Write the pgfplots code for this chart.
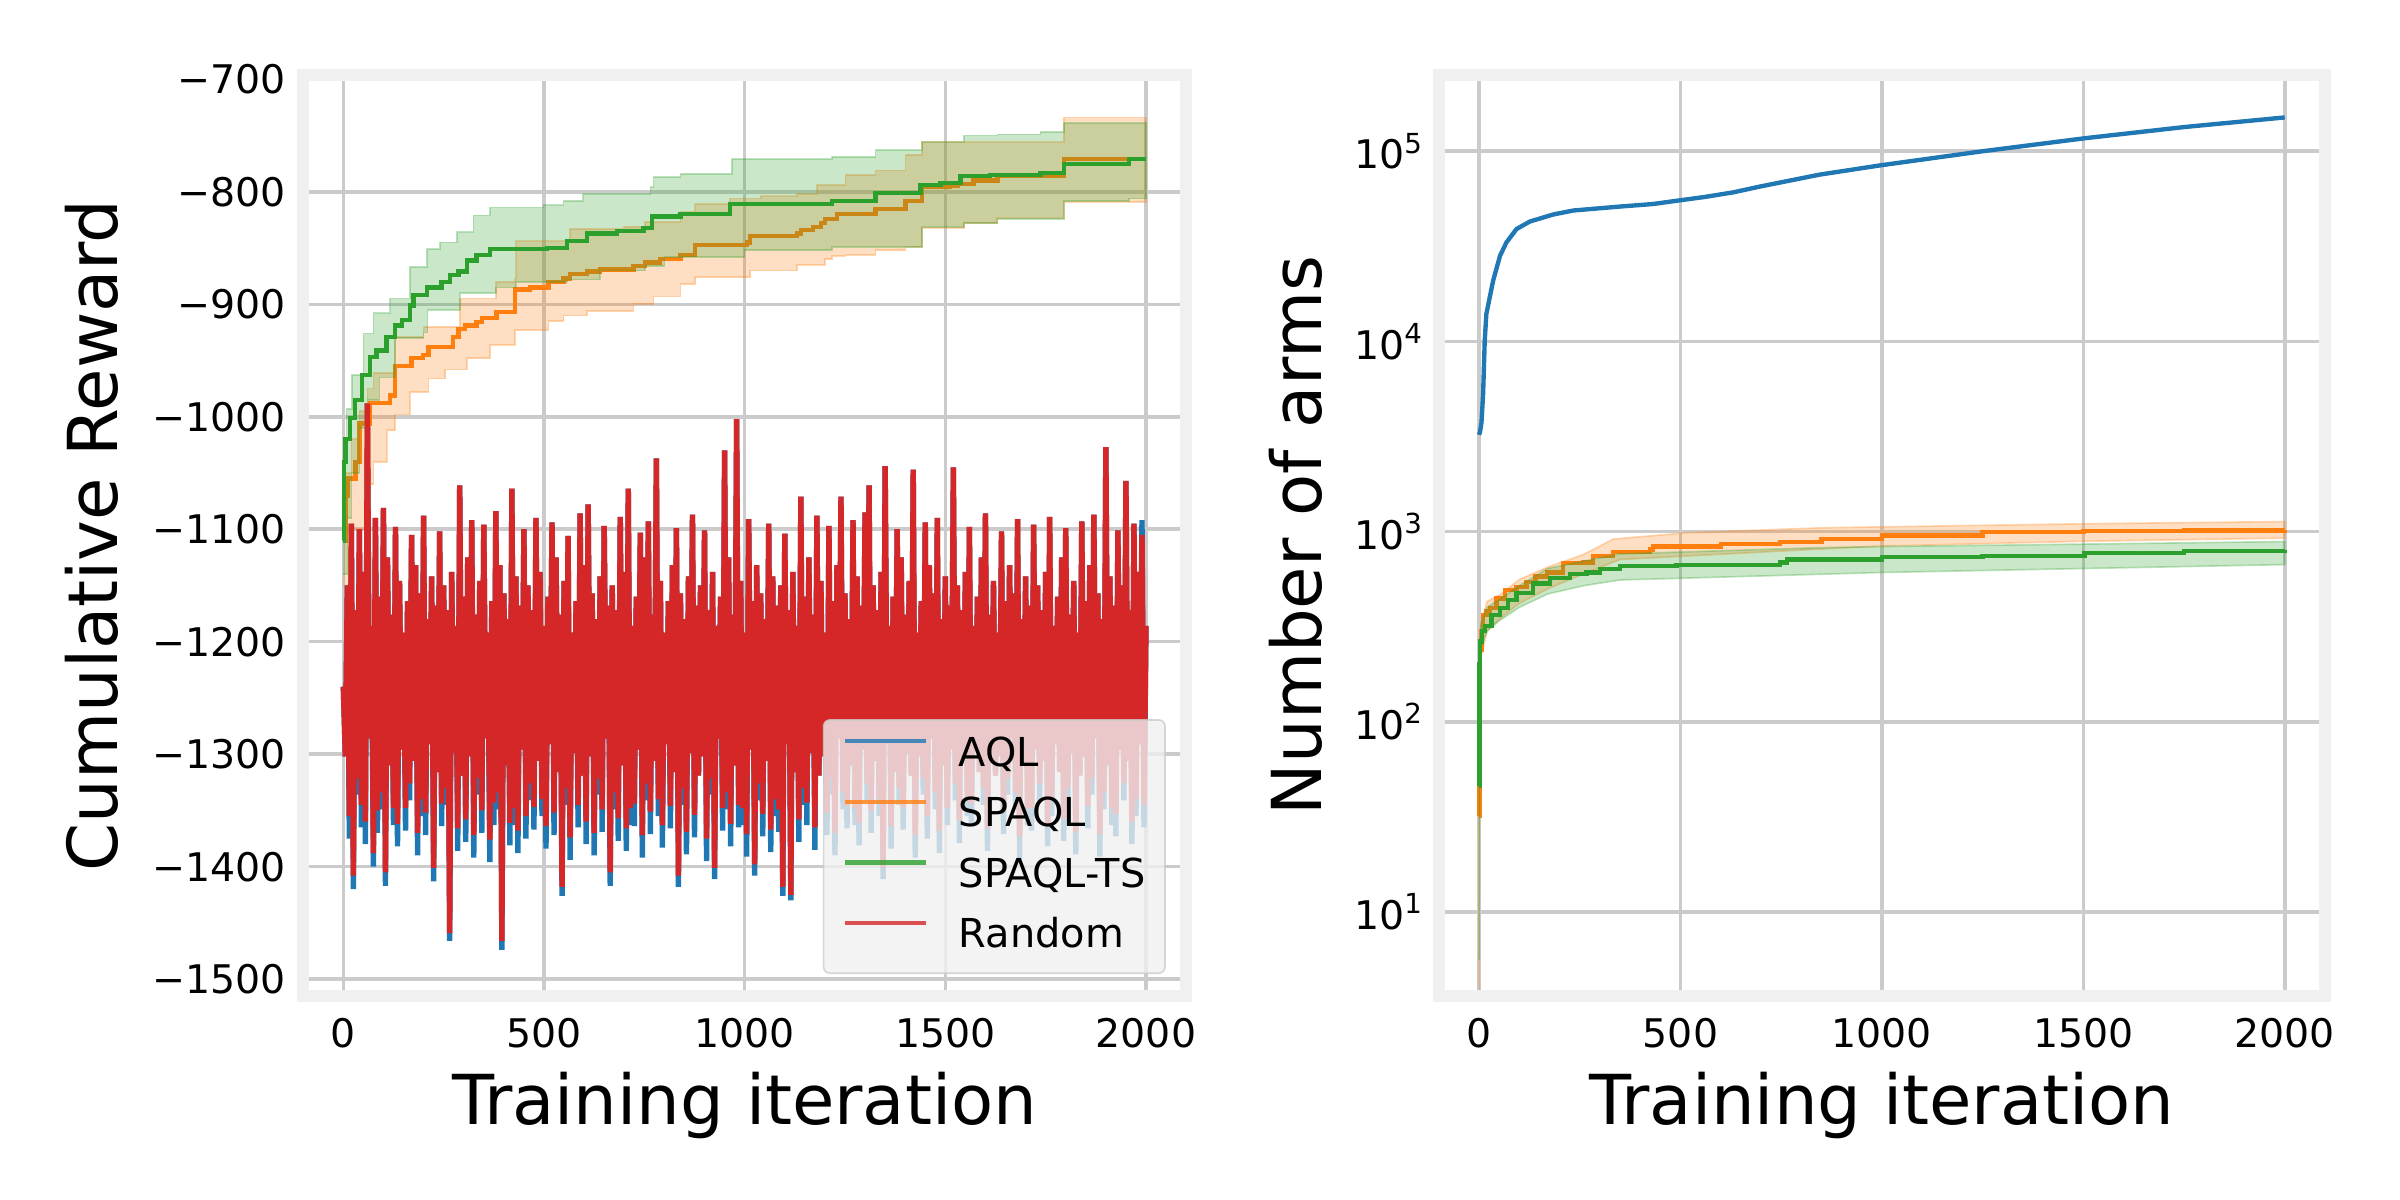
\documentclass[border=0pt]{standalone}
\usepackage{fontspec}
\setmainfont{DejaVu Sans}
\usepackage{pgfplots}
\usepackage{pgfplotstable}
\pgfplotsset{compat=1.18}

\definecolor{tblue}{HTML}{1F77B4}
\definecolor{torange}{HTML}{FF7F0E}
\definecolor{tgreen}{HTML}{2CA02C}
\definecolor{tred}{HTML}{D62728}
\definecolor{spinec}{HTML}{F0F0F0}
\definecolor{gridc}{HTML}{CBCBCB}
\definecolor{legbord}{HTML}{CCCCCC}

% ---------- left panel: noisy series (Random = r, AQL = a) ----------
\pgfplotstableread{
x r a
0 -1240 -1240
5 -1302 -1302
10 -1150 -1150
15 -1355 -1375
20 -1095 -1095
25 -1408 -1420
30 -1172 -1172
35 -1321 -1336
40 -1100 -1100
45 -1345 -1365
50 -1138 -1138
55 -1360 -1380
60 -988 -988
65 -1286 -1286
70 -1186 -1186
75 -1388 -1400
80 -1090 -1090
85 -1350 -1370
90 -1160 -1160
95 -1334 -1349
100 -1081 -1081
105 -1405 -1417
110 -1125 -1125
115 -1310 -1310
120 -1176 -1176
125 -1348 -1363
130 -1098 -1098
135 -1362 -1382
140 -1146 -1146
145 -1296 -1296
150 -1192 -1192
155 -1348 -1368
160 -1164 -1164
165 -1326 -1341
170 -1105 -1105
175 -1306 -1306
180 -1132 -1132
185 -1370 -1390
190 -1157 -1157
195 -1340 -1355
200 -1088 -1088
205 -1352 -1372
210 -1180 -1180
215 -1291 -1291
220 -1142 -1142
225 -1401 -1413
230 -1168 -1168
235 -1316 -1316
240 -1102 -1102
245 -1344 -1364
250 -1150 -1150
255 -1330 -1345
260 -1172 -1172
265 -1459 -1466
270 -1138 -1138
275 -1299 -1299
280 -1186 -1186
285 -1366 -1386
290 -1061 -1061
295 -1319 -1319
300 -1160 -1160
305 -1358 -1378
310 -1125 -1125
315 -1302 -1302
320 -1092 -1092
325 -1372 -1392
330 -1176 -1176
335 -1321 -1336
340 -1146 -1146
345 -1350 -1370
350 -1096 -1096
355 -1286 -1286
360 -1192 -1192
365 -1376 -1396
370 -1164 -1164
375 -1343 -1363
380 -1084 -1084
385 -1334 -1349
390 -1132 -1132
395 -1466 -1474
400 -1157 -1157
405 -1310 -1310
410 -1180 -1180
415 -1361 -1381
420 -1064 -1064
425 -1348 -1363
430 -1142 -1142
435 -1368 -1388
440 -1168 -1168
445 -1296 -1296
450 -1100 -1100
455 -1355 -1375
460 -1150 -1150
465 -1326 -1341
470 -1172 -1172
475 -1347 -1367
480 -1090 -1090
485 -1306 -1306
490 -1138 -1138
495 -1340 -1355
500 -1186 -1186
505 -1364 -1384
510 -1160 -1160
515 -1291 -1291
520 -1094 -1094
525 -1352 -1372
530 -1125 -1125
535 -1316 -1316
540 -1176 -1176
545 -1418 -1426
550 -1146 -1146
555 -1330 -1345
560 -1106 -1106
565 -1374 -1394
570 -1192 -1192
575 -1299 -1299
580 -1164 -1164
585 -1345 -1365
590 -1086 -1086
595 -1319 -1319
600 -1132 -1132
605 -1360 -1380
610 -1078 -1078
615 -1302 -1302
620 -1157 -1157
625 -1370 -1390
630 -1180 -1180
635 -1321 -1336
640 -1142 -1142
645 -1349 -1369
650 -1097 -1097
655 -1286 -1286
660 -1168 -1168
665 -1405 -1417
670 -1150 -1150
675 -1334 -1349
680 -1172 -1172
685 -1357 -1377
690 -1089 -1089
695 -1310 -1310
700 -1138 -1138
705 -1366 -1386
710 -1064 -1064
715 -1348 -1363
720 -1186 -1186
725 -1344 -1364
730 -1160 -1160
735 -1296 -1296
740 -1103 -1103
745 -1372 -1392
750 -1125 -1125
755 -1326 -1341
760 -1093 -1093
765 -1351 -1371
770 -1176 -1176
775 -1306 -1306
780 -1037 -1037
785 -1340 -1355
790 -1146 -1146
795 -1363 -1383
800 -1192 -1192
805 -1291 -1291
810 -1164 -1164
815 -1346 -1366
820 -1132 -1132
825 -1316 -1316
830 -1099 -1099
835 -1408 -1418
840 -1157 -1157
845 -1330 -1345
850 -1180 -1180
855 -1369 -1389
860 -1142 -1142
865 -1299 -1299
870 -1087 -1087
875 -1354 -1374
880 -1168 -1168
885 -1319 -1319
890 -1150 -1150
895 -1302 -1302
900 -1101 -1101
905 -1375 -1395
910 -1172 -1172
915 -1321 -1336
920 -1138 -1138
925 -1401 -1411
930 -1186 -1186
935 -1286 -1286
940 -1160 -1160
945 -1348 -1368
950 -1030 -1030
955 -1334 -1349
960 -1125 -1125
965 -1362 -1382
970 -1176 -1176
975 -1310 -1310
980 -1002 -1002
985 -1345 -1365
990 -1146 -1146
995 -1348 -1363
1000 -1192 -1192
1005 -1371 -1391
1010 -1091 -1091
1015 -1296 -1296
1020 -1164 -1164
1025 -1398 -1408
1030 -1132 -1132
1035 -1326 -1341
1040 -1157 -1157
1045 -1353 -1373
1050 -1180 -1180
1055 -1306 -1306
1060 -1095 -1095
1065 -1367 -1387
1070 -1142 -1142
1075 -1340 -1355
1080 -1168 -1168
1085 -1349 -1369
1090 -1150 -1150
1095 -1418 -1426
1100 -1104 -1104
1105 -1291 -1291
1110 -1172 -1172
1115 -1425 -1430
1120 -1138 -1138
1125 -1316 -1316
1130 -1186 -1186
1135 -1358 -1378
1140 -1071 -1071
1145 -1330 -1345
1150 -1160 -1160
1155 -1343 -1363
1160 -1125 -1125
1165 -1299 -1299
1170 -1176 -1176
1175 -1365 -1385
1180 -1088 -1088
1185 -1319 -1319
1190 -1146 -1146
1195 -1302 -1302
1200 -1192 -1192
1205 -1352 -1372
1210 -1097 -1097
1215 -1321 -1336
1220 -1164 -1164
1225 -1370 -1390
1230 -1132 -1132
1235 -1286 -1286
1240 -1071 -1071
1245 -1334 -1349
1250 -1157 -1157
1255 -1346 -1366
1260 -1180 -1180
1265 -1310 -1310
1270 -1092 -1092
1275 -1348 -1363
1280 -1142 -1142
1285 -1361 -1381
1290 -1168 -1168
1295 -1296 -1296
1300 -1085 -1085
1305 -1326 -1341
1310 -1061 -1061
1315 -1350 -1370
1320 -1150 -1150
1325 -1306 -1306
1330 -1172 -1172
1335 -1340 -1355
1340 -1138 -1138
1345 -1401 -1411
1350 -1044 -1044
1355 -1291 -1291
1360 -1186 -1186
1365 -1364 -1384
1370 -1160 -1160
1375 -1316 -1316
1380 -1100 -1100
1385 -1330 -1345
1390 -1125 -1125
1395 -1347 -1367
1400 -1176 -1176
1405 -1299 -1299
1410 -1146 -1146
1415 -1319 -1319
1420 -1047 -1047
1425 -1372 -1392
1430 -1192 -1192
1435 -1302 -1302
1440 -1164 -1164
1445 -1321 -1336
1450 -1094 -1094
1455 -1355 -1375
1460 -1132 -1132
1465 -1286 -1286
1470 -1157 -1157
1475 -1334 -1349
1480 -1090 -1090
1485 -1368 -1388
1490 -1180 -1180
1495 -1310 -1310
1500 -1142 -1142
1505 -1348 -1363
1510 -1168 -1168
1515 -1296 -1296
1520 -1045 -1045
1525 -1326 -1341
1530 -1150 -1150
1535 -1359 -1379
1540 -1172 -1172
1545 -1306 -1306
1550 -1138 -1138
1555 -1340 -1355
1560 -1098 -1098
1565 -1344 -1364
1570 -1186 -1186
1575 -1291 -1291
1580 -1160 -1160
1585 -1316 -1316
1590 -1125 -1125
1595 -1330 -1345
1600 -1086 -1086
1605 -1366 -1386
1610 -1176 -1176
1615 -1299 -1299
1620 -1146 -1146
1625 -1319 -1319
1630 -1192 -1192
1635 -1302 -1302
1640 -1102 -1102
1645 -1351 -1371
1650 -1164 -1164
1655 -1321 -1336
1660 -1132 -1132
1665 -1286 -1286
1670 -1157 -1157
1675 -1334 -1349
1680 -1091 -1091
1685 -1373 -1393
1690 -1180 -1180
1695 -1310 -1310
1700 -1142 -1142
1705 -1348 -1363
1710 -1168 -1168
1715 -1348 -1368
1720 -1096 -1096
1725 -1296 -1296
1730 -1150 -1150
1735 -1326 -1341
1740 -1172 -1172
1745 -1306 -1306
1750 -1138 -1138
1755 -1362 -1382
1760 -1089 -1089
1765 -1340 -1355
1770 -1186 -1186
1775 -1291 -1291
1780 -1160 -1160
1785 -1316 -1316
1790 -1125 -1125
1795 -1357 -1377
1800 -1099 -1099
1805 -1330 -1345
1810 -1176 -1176
1815 -1299 -1299
1820 -1146 -1146
1825 -1369 -1389
1830 -1192 -1192
1835 -1319 -1319
1840 -1093 -1093
1845 -1302 -1302
1850 -1164 -1164
1855 -1346 -1366
1860 -1132 -1132
1865 -1321 -1336
1870 -1087 -1087
1875 -1286 -1286
1880 -1157 -1157
1885 -1371 -1391
1890 -1180 -1180
1895 -1334 -1349
1900 -1027 -1027
1905 -1310 -1310
1910 -1142 -1142
1915 -1348 -1363
1920 -1168 -1168
1925 -1353 -1373
1930 -1101 -1101
1935 -1296 -1296
1940 -1150 -1150
1945 -1326 -1341
1950 -1057 -1057
1955 -1306 -1306
1960 -1172 -1172
1965 -1360 -1380
1970 -1095 -1095
1975 -1340 -1355
1980 -1138 -1138
1985 -1291 -1291
1990 -1105 -1092
1995 -1345 -1365
2000 -1186 -1186
}\noise

% ---------- left panel: SPAQL (orange) mean ----------
\pgfplotstableread{
x y
0 -1110
5 -1070
10 -1055
30 -1040
40 -1006
66 -988
116 -981
129 -955
170 -948
199 -945
212 -938
274 -929
287 -922
303 -919
332 -916
345 -912
382 -907
428 -887
465 -885
511 -880
549 -877
565 -873
607 -871
640 -869
723 -866
752 -863
789 -860
840 -856
877 -847
1006 -845
1014 -839
1131 -837
1140 -834
1170 -831
1190 -828
1200 -824
1230 -820
1326 -815
1401 -808
1442 -796
1510 -795
1530 -793
1570 -790
1630 -786
1795 -771
2000 -771
}\omean
% SPAQL band: upper edge (left to right), then lower edge (right to left)
\pgfplotstableread{
x y
0 -1090
5 -1090
5 -1050
20 -1050
20 -1020
40 -1020
40 -995
60 -995
60 -975
75 -975
75 -961
129 -961
129 -929
200 -929
200 -920
290 -920
290 -895
380 -895
380 -880
428 -880
428 -877
431 -877
431 -844
565 -844
565 -833
700 -833
700 -831
752 -831
752 -827
840 -827
840 -818
877 -818
877 -811
964 -811
964 -806
1040 -806
1040 -804
1131 -804
1131 -802
1180 -802
1180 -794
1251 -794
1251 -785
1326 -785
1326 -781
1401 -781
1401 -767
1442 -767
1442 -756
1795 -756
1795 -734
2000 -734
2000 -809
1795 -809
1795 -823
1629 -823
1629 -828
1547 -828
1547 -832
1442 -832
1442 -849
1401 -849
1401 -852
1326 -852
1326 -856
1251 -856
1251 -857
1218 -857
1218 -860
1200 -860
1200 -865
1131 -865
1131 -870
1014 -870
1014 -876
877 -876
877 -882
840 -882
840 -893
773 -893
773 -900
723 -900
723 -906
607 -906
607 -910
549 -910
549 -915
511 -915
511 -923
428 -923
428 -936
366 -936
366 -948
308 -948
308 -958
254 -958
254 -966
212 -966
212 -978
166 -978
166 -998
129 -998
129 -1012
108 -1012
108 -1040
75 -1040
75 -1060
60 -1060
60 -1100
20 -1100
20 -1150
0 -1150
}\oband

% ---------- left panel: SPAQL-TS (green) mean ----------
\pgfplotstableread{
x y
0 -1110
2 -1040
5 -1020
17 -1001
29 -985
46 -963
66 -947
83 -941
108 -929
129 -919
146 -914
166 -901
175 -892
208 -885
245 -880
266 -874
287 -871
308 -861
332 -856
366 -851
507 -850
557 -844
607 -837
682 -835
748 -832
769 -822
840 -820
964 -811
1218 -808
1326 -801
1438 -794
1488 -792
1538 -786
1612 -785
1737 -783
1795 -775
1958 -771
2000 -771
}\gmean
\pgfplotstableread{
x y
0 -1080
3 -1080
3 -1030
8 -1030
8 -993
21 -993
21 -963
50 -963
50 -926
75 -926
75 -908
117 -908
117 -895
166 -895
166 -867
208 -867
208 -851
241 -851
241 -845
283 -845
283 -836
324 -836
324 -821
366 -821
366 -814
499 -814
499 -812
549 -812
549 -808
598 -808
598 -802
765 -802
765 -796
773 -796
773 -787
840 -787
840 -784
968 -784
968 -771
1218 -771
1218 -769
1326 -769
1326 -763
1442 -763
1442 -756
1547 -756
1547 -750
1630 -750
1630 -749
1737 -749
1737 -747
1795 -747
1795 -739
2000 -739
2000 -806
1958 -806
1958 -808
1795 -808
1795 -824
1630 -824
1630 -828
1547 -828
1547 -831
1442 -831
1442 -849
1218 -849
1218 -852
1000 -852
1000 -858
800 -858
800 -866
752 -866
752 -870
640 -870
640 -878
557 -878
557 -880
430 -880
430 -885
380 -885
380 -890
290 -890
290 -905
210 -905
210 -925
200 -925
200 -930
129 -930
129 -965
90 -965
90 -985
60 -985
60 -1010
40 -1010
40 -1050
20 -1050
20 -1090
10 -1090
10 -1140
0 -1140
}\gband

% ---------- right panel ----------
\pgfplotstableread{
x y
0 3228
3 3400
6 3750
10 5280
14 10000
18 13900
23 15700
35 20900
52 28200
68 33200
93 39000
126 42700
184 46500
234 48800
350 51200
432 52800
490 54900
560 57500
631 60800
697 65200
846 75400
1001 84600
1250 100000
1503 117000
1750 134000
2000 150600
}\aqlarms
\pgfplotstableread{
x y
0 32
1 190
3 240
6 300
10 364
18 380
27 398
43 446
64 494
93 510
118 545
140 580
168 610
209 682
259 689
283 747
333 781
424 806
432 835
600 860
747 882
850 914
1000 955
1250 995
1500 1005
1750 1012
2000 1020
}\oarms
\pgfplotstableread{
x y
0 60
1 230
5 330
20 430
52 466
100 560
170 650
260 760
333 914
515 986
846 1047
1000 1060
1500 1100
2000 1130
2000 925
1500 890
1000 840
846 810
350 714
260 600
170 500
100 420
52 350
20 300
5 220
1 150
0 2
}\oarmsband
\pgfplotstableread{
x y
0 46
1 200
2 265
8 300
14 318
31 364
52 398
72 436
93 477
134 533
176 570
225 597
267 610
300 638
350 659
490 667
747 689
764 714
1000 736
1250 745
1503 771
1750 790
2000 800
}\garms
\pgfplotstableread{
x y
0 80
1 230
5 330
20 400
50 440
100 520
170 640
260 700
350 764
846 824
1000 835
1500 860
2000 887
2000 671
1500 640
1000 610
846 597
350 557
260 520
170 470
100 400
50 340
20 300
5 250
1 160
0 5.6
}\garmsband

\pgfplotsset{
  panel/.style={
    scale only axis,
    anchor=south west,
    height=221.9pt,
    xmin=-100, xmax=2100,
    axis line style={draw=none},
    major tick length=0pt,
    minor tick length=0pt,
    grid=major,
    major grid style={draw=gridc, line width=0.85pt},
    xtick={0,500,1000,1500,2000},
    xticklabels={0,500,1000,1500,2000},
    tick label style={font=\fontsize{9.5}{11}\selectfont},
    xticklabel style={yshift=-1.8pt},
    every axis x label/.style={at={(axis description cs:0.5,-0.14)}, anchor=base,
      font=\fontsize{16.6}{20}\selectfont},
    xlabel={Training iteration},
  },
  ln/.style={line width=1.05pt},
  noisy/.style={line width=1.3pt},
  band/.style={fill=#1, fill opacity=0.25, draw=#1, draw opacity=0.3, line width=0.4pt, forget plot},
}

\begin{document}
\begin{tikzpicture}
\path (0,0) rectangle (578.16pt,289.08pt);

\begin{axis}[panel, name=L,
  at={(73.04pt,49.14pt)}, width=212.7pt,
  ymin=-1515, ymax=-696,
  ytick={-1500,-1400,-1300,-1200,-1100,-1000,-900,-800,-700},
  yticklabels={−1500,−1400,−1300,−1200,−1100,−1000,−900,−800,−700},
  yticklabel style={xshift=-0.7pt},
  every axis y label/.style={at={(axis description cs:-0.2103,0.5)}, rotate=90, anchor=base,
    font=\fontsize{16.6}{20}\selectfont},
  ylabel={Cumulative Reward},
  legend cell align=left,
  legend image code/.code={\draw[#1, line width=1.05pt] (0pt,3.5pt) -- (19.4pt,3.5pt);
    \path (26.7pt,3.5pt);},
  legend style={at={(1,0)}, anchor=south east, xshift=-4.9pt, yshift=5.3pt,
    draw=legbord, line width=0.4pt, fill=spinec, fill opacity=0.8, draw opacity=0.8,
    text opacity=1, rounded corners=1.5pt, font=\fontsize{9.6}{11}\selectfont,
    inner xsep=4.7pt, inner ysep=1.3pt, row sep=0pt,
    nodes={inner xsep=0pt, inner ysep=2.5pt, text height=7.3pt, text depth=2.3pt}},
]
\addplot[tblue, noisy] table[x=x, y=a] {\noise};
\addlegendentry{AQL}

\addplot[torange, ln, const plot] table {\omean};
\addlegendentry{SPAQL}
\addplot[band=torange] table {\oband};

\addplot[tgreen, ln, const plot] table {\gmean};
\addlegendentry{SPAQL-TS}
\addplot[band=tgreen] table {\gband};

\addplot[tred, noisy] table[x=x, y=r] {\noise};
\addlegendentry{Random}
\end{axis}
\draw[spinec, line width=2.8pt] (L.south west) rectangle (L.north east);

\begin{axis}[panel, name=R,
  at={(346.6pt,49.14pt)}, width=213.5pt,
  ymode=log, log basis y=10,
  ymin=3.62, ymax=2.52e5,
  ytick={10,100,1000,10000,100000},
  yticklabels={10\textsuperscript{1},10\textsuperscript{2},10\textsuperscript{3},10\textsuperscript{4},10\textsuperscript{5}},
  every axis y label/.style={at={(axis description cs:-0.1321,0.5)}, rotate=90, anchor=base,
    font=\fontsize{16.6}{20}\selectfont},
  ylabel={Number of arms},
]
\addplot[tblue, ln] table {\aqlarms};
\addplot[torange, ln, const plot] table {\oarms};
\addplot[band=torange] table {\oarmsband};
\addplot[tgreen, ln, const plot] table {\garms};
\addplot[band=tgreen] table {\garmsband};
\end{axis}
\draw[spinec, line width=2.8pt] (R.south west) rectangle (R.north east);
\end{tikzpicture}
\end{document}
